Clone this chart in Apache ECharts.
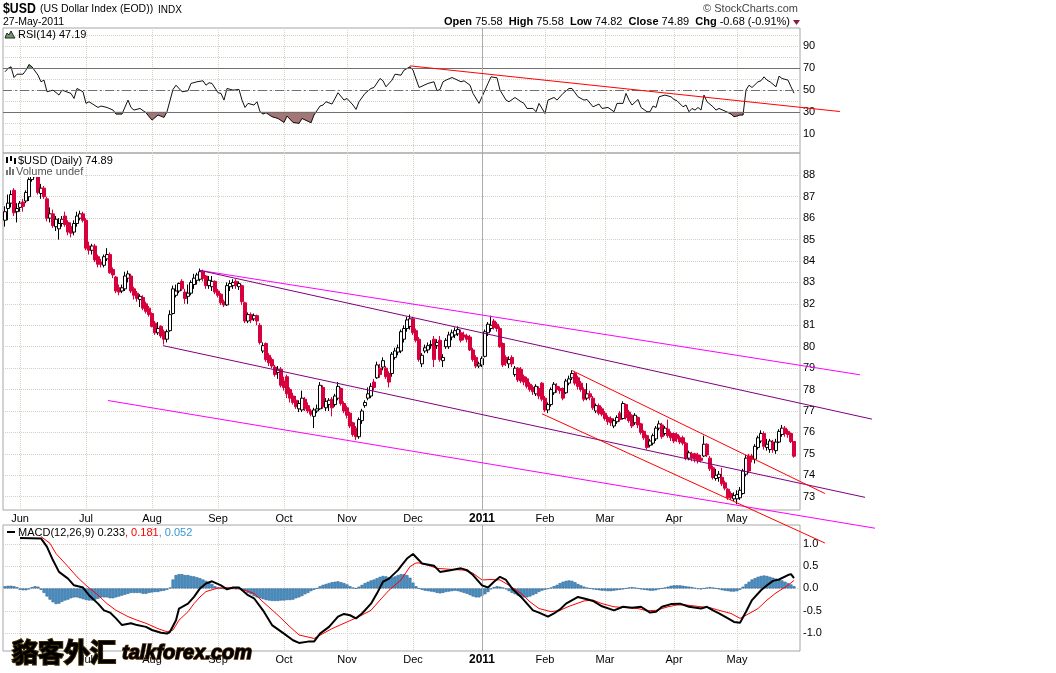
<!DOCTYPE html>
<html>
<head>
<meta charset="utf-8">
<title>$USD (US Dollar Index (EOD)) INDX</title>
<script src="https://cdn.jsdelivr.net/npm/echarts@6/dist/echarts.min.js"></script>
<style>
  html, body { margin: 0; padding: 0; background: #fff; }
  #main { width: 1056px; height: 673px; }
</style>
</head>
<body>
<div id="main"></div>
<script>
// $USD daily, one entry per weekday: index 0 = 24-May-2010 ... 263 = 27-May-2011
var opens = [
  85.9,86.45,86.7,87.3,86.3,86.5,86.75,86.8,87.0,87.8,
  88.3,88.0,87.15,87.4,86.9,86.0,86.2,85.6,85.5,85.75,
  86.1,85.8,85.6,85.35,85.75,86.0,86.2,85.9,84.7,84.5,
  84.7,84.2,83.95,83.8,84.1,84.3,83.6,83.25,82.75,82.6,
  82.7,83.2,83.3,82.7,82.5,82.2,82.3,82.0,81.8,81.55,
  81.1,80.65,80.95,80.7,80.35,80.75,81.55,82.4,82.6,83.05,
  82.55,82.35,82.5,82.9,83.1,83.15,83.5,83.3,82.85,82.8,
  83.05,82.6,82.45,82.1,81.95,82.8,82.85,83.05,82.8,82.85,
  82.05,81.2,81.5,81.3,81.45,81.0,79.8,80.15,79.6,79.4,
  79.05,78.8,78.95,78.4,78.6,78.0,77.7,77.5,77.1,77.05,
  77.55,77.25,77.0,76.75,77.0,77.1,78.1,77.15,77.3,77.55,
  77.3,77.6,78.05,77.35,77.15,76.9,76.45,76.2,75.8,76.55,
  77.25,77.6,77.7,78.35,78.55,79.0,79.05,79.0,78.75,78.75,
  79.5,79.75,79.8,80.35,80.85,80.95,81.3,80.75,80.35,79.2,
  79.8,79.85,80.05,80.35,80.05,80.3,79.35,80.0,80.0,80.45,
  80.55,80.6,80.65,80.55,80.5,80.45,79.85,79.5,79.1,79.15,
  79.55,80.65,80.85,81.2,81.05,80.85,80.15,79.5,79.2,79.5,
  78.7,79.0,78.95,78.6,78.5,78.25,78.1,77.8,78.05,78.3,
  77.6,77.05,77.3,77.85,78.15,78.05,78.05,77.85,78.3,78.55,
  78.75,78.55,78.3,78.0,77.6,77.8,77.6,77.0,77.25,77.1,
  76.9,76.7,76.65,76.3,76.5,76.9,76.65,77.3,76.95,76.8,
  76.45,76.7,76.4,76.05,75.85,75.4,75.5,75.7,76.2,76.35,
  75.95,76.15,75.95,75.95,75.9,75.75,75.75,75.5,74.8,75.0,
  75.0,74.95,74.8,74.9,75.45,74.8,74.35,73.85,73.9,73.9,
  73.65,73.35,73.15,72.9,72.9,72.95,73.15,74.05,74.9,74.9,
  74.75,75.3,75.6,75.95,75.3,75.2,75.55,75.15,75.55,75.9,
  76.2,76.05,75.95,75.58
];
var closes = [
  86.3,86.7,87.1,86.25,86.45,86.7,86.55,87.2,87.8,88.3,
  88.0,87.2,87.4,87.0,86.0,86.2,85.65,85.95,85.75,85.95,
  85.7,85.35,85.3,85.75,86.1,86.2,85.9,84.6,84.5,84.7,
  84.05,83.85,83.85,84.2,84.3,83.45,83.35,82.6,82.55,82.75,
  83.3,83.4,82.6,82.4,82.25,82.35,81.8,81.65,81.5,80.95,
  80.65,80.85,80.5,80.35,80.7,81.5,82.7,82.6,82.95,82.7,
  82.25,82.5,83.0,83.2,83.35,83.5,83.2,82.85,83.1,83.05,
  82.55,82.4,82.05,81.95,82.85,82.95,83.0,82.85,82.95,82.1,
  81.2,81.5,81.25,81.45,81.2,80.2,80.05,79.4,79.25,79.1,
  78.7,78.95,78.2,78.1,77.8,77.6,77.4,77.2,77.35,77.6,
  77.1,77.0,76.85,77.05,77.1,78.2,77.2,77.45,77.5,77.15,
  77.7,78.15,77.35,77.0,76.8,76.3,75.9,75.8,76.6,77.0,
  77.4,77.8,78.15,78.1,79.15,78.7,79.35,78.6,78.35,79.65,
  79.8,79.95,80.7,80.85,81.25,81.3,80.65,80.3,79.4,79.6,
  79.95,80.05,80.1,79.4,80.2,79.4,79.5,80.3,80.55,80.65,
  80.75,80.8,80.3,80.45,80.35,79.85,79.4,79.1,79.2,79.45,
  80.7,81.05,81.0,80.9,80.85,80.0,79.15,79.25,79.4,79.2,
  79.0,78.45,78.4,78.35,78.15,78.0,77.9,78.15,77.7,77.55,
  77.05,77.3,78.0,78.25,78.0,77.95,77.6,78.4,78.5,78.75,
  78.3,78.15,78.0,77.55,77.8,77.65,77.15,77.25,76.9,76.85,
  76.65,76.5,76.45,76.55,76.7,76.6,77.35,76.7,76.55,76.3,
  76.8,76.35,76.0,75.75,75.3,75.6,75.85,76.2,76.4,75.8,
  76.2,75.85,75.75,75.6,75.7,75.55,75.5,74.8,75.05,74.8,
  74.75,74.7,74.7,75.45,74.95,74.3,73.9,74.0,74.05,73.6,
  73.4,72.95,72.95,73.05,73.1,73.3,74.2,74.8,74.2,74.75,
  75.35,75.75,75.95,75.35,75.45,75.6,75.2,75.55,76.05,76.2,
  75.95,75.9,75.57,74.89
];
var lows = [
  85.6,85.9,86.5,86.1,85.8,86.3,86.3,86.7,86.8,87.7,
  87.9,87.1,86.9,86.9,85.85,85.8,85.55,85.4,85.0,85.6,
  85.6,85.2,85.1,85.2,85.6,85.9,85.8,84.5,84.3,84.3,
  83.95,83.7,83.7,83.7,84.0,83.4,83.2,82.5,82.4,82.5,
  82.6,83.0,82.5,82.2,82.1,81.85,81.7,81.55,81.4,80.9,
  80.55,80.55,80.4,80.1,80.2,80.7,81.5,82.3,82.5,82.6,
  82.0,82.0,82.4,82.7,82.9,83.05,83.05,82.7,82.7,82.6,
  82.45,82.3,81.95,81.85,81.9,82.6,82.7,82.7,82.65,81.95,
  81.1,81.1,81.1,81.2,81.0,80.1,79.7,79.3,79.1,79.0,
  78.6,78.5,78.1,77.95,77.6,77.4,77.3,77.1,76.95,76.95,
  77.0,76.9,76.75,76.2,76.9,77.05,77.1,77.0,77.0,76.75,
  77.2,77.5,77.25,76.9,76.65,76.2,75.8,75.65,75.7,76.4,
  77.15,77.5,77.6,77.95,78.5,78.55,78.9,78.5,78.1,78.6,
  79.4,79.6,79.7,80.2,80.7,80.8,80.55,80.2,79.3,79.05,
  79.7,79.7,79.9,79.05,79.9,79.3,79.05,79.9,79.9,80.3,
  80.4,80.5,80.2,80.3,80.2,79.8,79.3,79.0,79.0,79.05,
  79.5,80.5,80.7,80.8,80.7,79.95,79.05,79.1,79.0,79.05,
  78.6,78.35,78.3,78.2,78.05,77.9,77.75,77.7,77.55,77.45,
  76.95,76.9,77.2,77.75,77.85,77.8,77.5,77.8,78.2,78.45,
  78.2,78.0,77.9,77.45,77.5,77.5,77.05,76.9,76.8,76.75,
  76.55,76.35,76.3,76.2,76.4,76.5,76.6,76.6,76.45,76.2,
  76.35,76.2,75.9,75.65,75.2,75.3,75.4,75.6,76.1,75.7,
  75.85,75.75,75.6,75.5,75.55,75.45,75.4,74.7,74.7,74.65,
  74.6,74.55,74.6,74.85,74.85,74.2,73.8,73.75,73.7,73.5,
  73.3,72.85,72.85,72.8,72.65,72.85,73.1,73.95,74.1,74.6,
  74.55,75.2,75.5,75.2,75.15,75.05,75.05,75.0,75.5,75.8,
  75.8,75.75,75.5,74.82
];
var highs = [
  86.55,87.1,87.3,87.4,86.7,86.8,86.9,87.3,87.9,88.7,
  88.5,88.1,87.6,87.5,87.0,86.5,86.4,86.1,86.0,86.1,
  86.3,85.9,85.8,85.9,86.3,86.35,86.3,86.0,84.9,84.8,
  84.8,84.3,84.1,84.3,84.6,84.4,83.7,83.3,82.9,82.9,
  83.5,83.55,83.4,82.8,82.6,82.45,82.4,82.1,81.9,81.6,
  81.2,81.15,81.0,80.8,80.8,81.7,82.85,82.9,83.0,83.15,
  82.7,82.9,83.1,83.4,83.45,83.65,83.6,83.35,83.3,83.3,
  83.1,82.7,82.5,82.2,83.0,83.1,83.15,83.15,83.05,82.9,
  82.1,81.6,81.6,81.55,81.5,81.1,80.2,80.2,79.7,79.5,
  79.15,79.1,79.05,78.6,78.7,78.1,77.85,77.7,77.5,77.95,
  77.65,77.4,77.1,77.15,77.3,78.35,78.2,77.6,77.6,77.65,
  77.8,78.35,78.1,77.45,77.25,76.95,76.5,76.3,76.7,77.1,
  77.5,78.1,78.3,78.5,79.3,79.2,79.5,79.1,78.85,79.75,
  79.95,80.1,80.8,81.0,81.4,81.5,81.4,80.85,80.45,79.7,
  80.1,80.2,80.3,80.5,80.35,80.5,79.65,80.4,80.7,80.8,
  80.9,80.95,80.8,80.7,80.6,80.55,79.95,79.6,79.3,79.55,
  80.8,81.15,81.45,81.3,81.15,80.95,80.2,79.6,79.55,79.6,
  79.1,79.05,79.05,78.7,78.6,78.35,78.2,78.25,78.15,78.35,
  77.7,77.4,78.1,78.35,78.3,78.15,78.1,78.5,78.65,78.9,
  78.85,78.65,78.4,78.1,78.3,77.95,77.7,77.35,77.35,77.2,
  77.0,76.8,76.75,76.65,76.8,77.0,77.45,77.35,77.05,76.85,
  76.9,76.75,76.45,76.1,75.9,75.7,75.95,76.3,76.55,76.45,
  76.3,76.6,76.05,76.0,76.0,75.85,75.85,75.55,75.15,75.1,
  75.05,75.05,74.95,75.85,75.5,74.9,74.45,74.3,74.2,74.35,
  73.75,73.4,73.25,73.2,73.3,73.45,74.3,74.95,75.0,75.0,
  75.45,75.85,76.1,76.05,75.7,75.7,75.65,75.7,76.15,76.35,
  76.3,76.15,76.0,75.58
];

// first trading day of each month (day index) and its label
var monthTicks = [5, 27, 49, 71, 93, 114, 136, 159, 180, 200, 223, 244];
var monthLabels = ['Jun', 'Jul', 'Aug', 'Sep', 'Oct', 'Nov', 'Dec', '2011', 'Feb', 'Mar', 'Apr', 'May'];
var priceTicks = [73, 74, 75, 76, 77, 78, 79, 80, 81, 82, 83, 84, 85, 86, 87, 88];
var rsiTicks = [10, 30, 50, 70, 90];
var rsiGridLines = [0, 10, 20, 30, 40, 50, 60, 70, 80, 90, 100];
var macdTicks = [-1, -0.5, 0, 0.5, 1];

// RSI(14) as [day index, value]
var rsi = [
  [0,66.7],[1,69.7],[2,71.2],[3,61.5],[4,64.5],[6,64.5],[7,68.2],[8,73.3],[9,71.2],[11,63.6],
  [12,57.6],[13,59.1],[14,48.5],[16,50],[18,45.5],[19,50],[22,47],[23,42.4],[24,51.5],[26,48.5],
  [27,37.9],[28,39.4],[31,34.2],[32,35.5],[34,34.2],[36,31.8],[37,28.2],[39,28.2],[41,40.9],[42,34.2],
  [43,31.8],[45,33.3],[47,29.4],[49,22.7],[51,27.3],[53,25.2],[54,30.3],[56,50.6],[57,54.5],[59,48.5],
  [61,49.4],[62,56.1],[64,57.6],[66,58.5],[67,54.5],[68,56.7],[69,56.1],[71,47.6],[72,47],[73,40.9],
  [74,51.5],[76,50],[78,50.6],[79,40.9],[80,34.2],[81,37.9],[83,36.4],[84,39.4],[85,30.3],[86,28.2],
  [87,29.4],[89,25.8],[91,24.2],[93,20.6],[94,26.4],[96,20.6],[98,19.7],[99,24.2],[102,20.3],[103,27.3],
  [105,35.5],[106,36.4],[107,39.4],[109,37.3],[110,42.4],[111,47.6],[113,40.9],[114,42.4],[116,36.4],[117,32.4],
  [118,39.4],[120,47],[122,51.5],[123,52.4],[125,60.6],[126,58.5],[127,53],[129,59.1],[130,64.5],[132,63.6],
  [133,68.2],[135,71.2],[136,68.2],[138,52.4],[139,53.6],[141,56.1],[143,57.6],[144,49.4],[145,50.6],[146,57.6],
  [147,59.1],[149,61.5],[152,57.6],[153,58.5],[155,54.5],[156,47],[158,37.9],[159,43.9],[161,56.1],[162,62.1],
  [164,61.2],[165,50],[167,40.9],[168,39.4],[170,43.3],[172,39.4],[173,37.9],[174,33.3],[176,33.3],[177,30.3],
  [178,37.9],[180,28.8],[181,40.9],[183,43.3],[184,40.9],[186,47],[188,51.5],[189,51.5],[191,43.9],[193,40.9],
  [194,41.5],[196,34.8],[198,37.3],[199,33.3],[201,34.2],[203,30.3],[204,37.9],[206,37.9],[207,47],[208,40.9],
  [209,36.4],[211,41.5],[212,34.2],[214,30.3],[215,30.3],[216,35.5],[217,34.2],[218,43.9],[220,45.5],[222,43.9],
  [223,41.5],[224,40.3],[226,34.8],[227,36.4],[228,30.3],[229,33.3],[230,31.8],[231,34.2],[232,31.8],[233,45.5],
  [234,39.4],[236,34.8],[237,31.8],[238,33.3],[240,30.9],[242,28.2],[243,25.8],[244,26.4],[245,27.3],[246,27.3],
  [247,50],[248,54.5],[249,52.4],[251,57.6],[252,58.5],[253,62.1],[254,59.1],[255,57.6],[257,53],[258,62.7],
  [259,60.6],[261,59.1],[262,53],[263,47.19]
];

// MACD(12,26,9): MACD line and signal as [day index, value], histogram one value per day
var macdLine = [
  [5,1.13],[12,1.12],[14,0.93],[16,0.63],[18,0.37],[21,0.22],[23,0.07],[26,0.02],[28,-0.15],[31,-0.34],
  [33,-0.49],[35,-0.54],[37,-0.67],[39,-0.82],[42,-0.78],[44,-0.82],[47,-0.86],[49,-0.93],[52,-0.99],[54,-1.01],
  [55,-0.97],[57,-0.71],[58,-0.45],[61,-0.34],[63,-0.19],[65,0],[67,0.11],[69,0.16],[72,0.07],[74,-0.02],
  [76,0.02],[78,0.02],[81,-0.15],[83,-0.22],[86,-0.49],[89,-0.82],[93,-1.01],[96,-1.16],[98,-1.22],[101,-1.19],
  [103,-1.19],[105,-1.01],[108,-0.86],[111,-0.63],[113,-0.57],[115,-0.6],[117,-0.67],[119,-0.56],[122,-0.34],[124,-0.11],
  [126,0.15],[128,0.22],[131,0.41],[132,0.5],[134,0.67],[136,0.77],[138,0.63],[139,0.56],[143,0.51],[145,0.37],
  [148,0.4],[152,0.45],[154,0.41],[156,0.3],[159,0.07],[161,0.02],[163,0.15],[165,0.26],[167,0.19],[169,0],
  [172,-0.19],[174,-0.34],[176,-0.49],[178,-0.54],[181,-0.63],[183,-0.56],[185,-0.47],[187,-0.34],[191,-0.19],[194,-0.24],
  [196,-0.28],[199,-0.4],[203,-0.49],[206,-0.41],[209,-0.43],[212,-0.41],[215,-0.54],[217,-0.52],[219,-0.41],[222,-0.35],
  [225,-0.34],[228,-0.41],[232,-0.45],[234,-0.41],[236,-0.49],[238,-0.56],[241,-0.67],[243,-0.75],[245,-0.77],[247,-0.52],
  [249,-0.26],[252,-0.04],[254,0.07],[256,0.17],[258,0.2],[261,0.3],[262,0.32],[263,0.233]
];
var signalLine = [
  [12,1.16],[15,1.01],[17,0.78],[21,0.49],[24,0.26],[27,0.07],[31,-0.15],[34,-0.34],[37,-0.49],[41,-0.63],
  [44,-0.71],[47,-0.78],[51,-0.9],[54,-0.97],[56,-0.93],[58,-0.71],[61,-0.52],[63,-0.34],[65,-0.19],[67,-0.07],
  [71,0.01],[75,0.02],[78,0],[83,-0.11],[86,-0.3],[91,-0.6],[95,-0.86],[98,-1.04],[103,-1.12],[106,-1.01],
  [109,-0.9],[114,-0.75],[118,-0.63],[122,-0.49],[125,-0.26],[128,-0.04],[132,0.19],[135,0.49],[137,0.57],[138,0.57],
  [141,0.52],[144,0.45],[148,0.43],[153,0.41],[156,0.34],[159,0.19],[162,0.2],[165,0.19],[168,0.07],[172,-0.11],
  [175,-0.3],[178,-0.45],[182,-0.52],[185,-0.49],[188,-0.4],[193,-0.28],[196,-0.26],[199,-0.34],[203,-0.41],[207,-0.43],
  [211,-0.45],[214,-0.5],[217,-0.49],[221,-0.41],[224,-0.37],[227,-0.37],[232,-0.41],[235,-0.43],[238,-0.49],[242,-0.56],
  [245,-0.67],[247,-0.6],[251,-0.45],[254,-0.26],[257,-0.1],[261,0.07],[263,0.181]
];
var macdHist = [
  0.05,0.06,0.06,0.05,0.03,-0.03,-0.04,-0.04,-0.02,0.03,0.05,0.04,
  -0.03,-0.1,-0.18,-0.25,-0.31,-0.35,-0.34,-0.3,-0.27,-0.25,-0.22,-0.2,-0.2,-0.22,-0.24,
  -0.26,-0.27,-0.27,-0.25,-0.23,-0.2,-0.2,-0.2,-0.22,-0.22,-0.2,-0.18,-0.16,
  -0.14,-0.12,-0.1,-0.1,-0.1,-0.1,-0.12,-0.12,-0.1,-0.09,-0.08,-0.08,-0.06,-0.05,-0.03,0.02,
  0.2,0.3,0.32,0.32,0.3,0.3,0.28,0.27,0.25,0.23,0.2,0.17,0.14,0.1,0.05,0.02,
  0.0,-0.01,0.01,0.0,-0.01,-0.02,-0.02,-0.04,-0.06,-0.1,-0.13,-0.17,-0.2,-0.22,
  -0.24,-0.26,-0.27,-0.28,-0.28,-0.28,-0.27,-0.27,-0.26,-0.26,-0.25,-0.22,-0.2,-0.17,-0.13,-0.1,-0.06,-0.03,
  0.0,0.05,0.08,0.1,0.12,0.14,0.15,0.16,0.14,0.12,0.09,0.05,0.02,0.0,0.04,0.08,0.12,0.15,
  0.18,0.2,0.23,0.26,0.28,0.27,0.25,0.25,0.27,0.3,0.32,0.32,0.3,0.24,0.13,0.05,0.0,
  -0.03,-0.05,-0.06,-0.07,-0.08,-0.1,-0.11,-0.1,-0.08,-0.07,-0.06,-0.05,-0.06,-0.08,-0.1,
  -0.12,-0.15,-0.18,-0.2,-0.2,-0.17,-0.13,-0.08,-0.02,0.03,0.05,0.04,0.02,-0.02,-0.06,-0.1,
  -0.13,-0.16,-0.18,-0.2,-0.2,-0.18,-0.15,-0.12,-0.08,-0.05,-0.03,-0.01,0.02,0.05,0.08,0.12,
  0.15,0.17,0.18,0.17,0.14,0.1,0.07,0.04,0.02,0.0,-0.02,-0.03,-0.04,
  -0.05,-0.05,-0.06,-0.06,-0.05,-0.04,-0.03,-0.02,0.0,0.02,0.03,0.02,0.0,-0.02,-0.03,-0.04,-0.05,
  -0.05,-0.04,-0.02,0.0,0.02,0.04,0.06,0.07,0.07,0.07,0.06,0.05,0.04,0.03,0.01,-0.01,-0.02,0.0,
  0.02,0.03,0.02,0.0,-0.02,-0.04,-0.05,-0.06,-0.07,-0.07,-0.06,-0.03,0.04,0.1,0.15,0.2,0.23,0.26,
  0.28,0.29,0.28,0.26,0.24,0.22,0.2,0.18,0.15,0.12,0.09,0.052
];

// annotation lines drawn on the chart, [day index, value] end points
var chanUpperMagenta = [[65, 83.56], [285, 78.69]];
var chanUpperPurple = [[65, 83.56], [289, 76.62]];
var chanLowerPurple = [[52.7, 80.05], [286.7, 72.97]];
var chanLowerMagenta = [[34.3, 77.49], [290, 71.53]];
var wedgeTop = [[189, 78.89], [273.3, 73.15]];
var wedgeBottom = [[179, 76.87], [273.3, 70.84]];
var rsiTrend = [[135, 72.1], [278.3, 30.5]];

var FONT = '"Liberation Sans", Arial, Helvetica, sans-serif';
var GRID_COLOR = '#d7cfc3';
var RED = '#d8003c';
var DAY_MIN = -2 / 3;     // left edge of the plot, in day units
var DAY_MAX = 265;        // right edge of the plot (x = 800)
var DAY_MAX_WIDE = 291.67; // right edge of the overlay used by annotation lines (x = 880)

var candleData = opens.map(function (o, i) {
  return [i, o, closes[i], lows[i], highs[i]];
});
var histData = macdHist.map(function (v, i) { return [i, v]; });

// area between the RSI line and a level (below 30 / above 70), one piece per segment
function rsiZone(level, below, color) {
  return {
    type: 'custom',
    xAxisIndex: 0,
    yAxisIndex: 0,
    data: rsi,
    encode: { x: 0, y: 1 },
    silent: true,
    z: 3,
    renderItem: function (params, api) {
      var k = params.dataIndex;
      if (k >= rsi.length - 1) return null;
      var p1 = rsi[k], p2 = rsi[k + 1];
      var in1 = below ? p1[1] < level : p1[1] > level;
      var in2 = below ? p2[1] < level : p2[1] > level;
      if (!in1 && !in2) return null;
      var pts;
      if (in1 && in2) {
        pts = [[p1[0], level], p1, p2, [p2[0], level]];
      } else {
        var t = (level - p1[1]) / (p2[1] - p1[1]);
        var xc = p1[0] + t * (p2[0] - p1[0]);
        pts = in1 ? [[p1[0], level], p1, [xc, level]] : [[xc, level], p2, [p2[0], level]];
      }
      return {
        type: 'polygon',
        shape: { points: pts.map(function (p) { return api.coord(p); }) },
        style: { fill: color, stroke: color, lineWidth: 0.5 }
      };
    }
  };
}

function monthName(v) {
  var k = monthTicks.indexOf(v);
  if (k < 0) return '';
  return monthLabels[k] === '2011' ? '{y|2011}' : monthLabels[k];
}

function dayAxis(gridIndex, showLabels) {
  return {
    type: 'value',
    gridIndex: gridIndex,
    min: DAY_MIN,
    max: DAY_MAX,
    axisLine: { show: false },
    axisTick: { show: false, customValues: monthTicks },
    splitLine: { show: true, lineStyle: { color: GRID_COLOR, type: 'dotted', width: 1 } },
    axisLabel: {
      show: showLabels,
      customValues: monthTicks,
      formatter: monthName,
      margin: 3,
      color: '#000',
      fontSize: 11,
      fontFamily: FONT,
      rich: { y: { fontWeight: 'bold', fontSize: 12, fontFamily: FONT, color: '#000' } }
    }
  };
}

function valueAxis(gridIndex, min, max, labels, lines, fmt) {
  return {
    type: 'value',
    gridIndex: gridIndex,
    position: 'right',
    min: min,
    max: max,
    axisLine: { show: false },
    axisTick: { show: false, customValues: lines },
    splitLine: { show: true, lineStyle: { color: GRID_COLOR, type: 'dotted', width: 1 } },
    axisLabel: {
      customValues: labels,
      formatter: fmt,
      margin: 3,
      color: '#000',
      fontSize: 11,
      fontFamily: FONT
    }
  };
}

function trend(data, color, xi, yi) {
  return {
    type: 'line',
    xAxisIndex: xi,
    yAxisIndex: yi,
    data: data,
    clip: false,
    silent: true,
    symbol: 'none',
    lineStyle: { color: color, width: 1 },
    z: 5
  };
}

var janLine = {
  symbol: 'none',
  silent: true,
  label: { show: false },
  lineStyle: { color: '#ababab', type: 'solid', width: 1 },
  data: [{ xAxis: 159 }]
};

var gridBox = { show: true, borderColor: '#a6a6a6', borderWidth: 1, left: 3, right: 256 };
// invisible overlays with the same scale, wider so the drawn lines can run past the plot edge
var overlayBox = { show: false, left: 3, right: 176 };

var myChart = echarts.init(document.getElementById('main'));

var option = {
  animation: false,
  backgroundColor: '#fff',
  textStyle: { fontFamily: FONT },
  grid: [
    Object.assign({ top: 28, height: 125 }, gridBox),
    Object.assign({ top: 153, height: 357 }, gridBox),
    Object.assign({ top: 525, height: 126 }, gridBox),
    Object.assign({ top: 153, height: 357 }, overlayBox),
    Object.assign({ top: 28, height: 125 }, overlayBox)
  ],
  xAxis: [
    dayAxis(0, false), dayAxis(1, true), dayAxis(2, true),
    { type: 'value', gridIndex: 3, min: DAY_MIN, max: DAY_MAX_WIDE, show: false },
    { type: 'value', gridIndex: 4, min: DAY_MIN, max: DAY_MAX_WIDE, show: false }
  ],
  yAxis: [
    valueAxis(0, -7.3, 106.6, rsiTicks, rsiGridLines),
    valueAxis(1, 72.38, 89.04, priceTicks, priceTicks),
    valueAxis(2, -1.4, 1.42, macdTicks, macdTicks, function (v) { return v.toFixed(1); }),
    { type: 'value', gridIndex: 3, min: 72.38, max: 89.04, show: false },
    { type: 'value', gridIndex: 4, min: -7.3, max: 106.6, show: false }
  ],
  series: [
    // RSI panel
    rsiZone(30, true, '#a57676'),
    rsiZone(70, false, '#6f9c6f'),
    {
      type: 'line', xAxisIndex: 0, yAxisIndex: 0, data: rsi, symbol: 'none', silent: true,
      lineStyle: { color: '#111', width: 1 }, z: 4,
      markLine: {
        symbol: 'none', silent: true, label: { show: false },
        data: [
          { yAxis: 70, lineStyle: { color: '#707070', type: 'solid', width: 1 } },
          { yAxis: 30, lineStyle: { color: '#707070', type: 'solid', width: 1 } },
          { yAxis: 50, lineStyle: { color: '#707070', type: [9, 3, 2, 3], width: 1 } },
          { xAxis: 159, lineStyle: { color: '#ababab', type: 'solid', width: 1 } }
        ]
      }
    },
    trend(rsiTrend, '#ff0000', 4, 4),

    // price panel
    {
      type: 'candlestick', xAxisIndex: 1, yAxisIndex: 1, data: candleData,
      encode: { x: 0, y: [1, 2, 3, 4] },
      barWidth: 3, silent: true,
      itemStyle: { color: '#fff', color0: RED, borderColor: '#000', borderColor0: RED, borderWidth: 1 },
      markLine: janLine
    },
    trend(chanUpperMagenta, '#ff00ff', 3, 3),
    trend(chanUpperPurple, '#800080', 3, 3),
    trend(chanLowerPurple, '#800080', 3, 3),
    trend(chanLowerMagenta, '#ff00ff', 3, 3),
    trend(wedgeTop, '#ff0000', 3, 3),
    trend(wedgeBottom, '#ff0000', 3, 3),

    // MACD panel
    {
      type: 'bar', xAxisIndex: 2, yAxisIndex: 2, data: histData, barWidth: 3, silent: true,
      itemStyle: { color: '#4d92c8', borderColor: '#2f6796', borderWidth: 0.6 },
      markLine: janLine
    },
    { type: 'line', xAxisIndex: 2, yAxisIndex: 2, data: signalLine, symbol: 'none', silent: true,
      lineStyle: { color: '#ff0000', width: 1 }, z: 4 },
    { type: 'line', xAxisIndex: 2, yAxisIndex: 2, data: macdLine, symbol: 'none', silent: true,
      lineStyle: { color: '#000', width: 2 }, z: 5 }
  ],
  graphic: [
    // header
    { type: 'text', x: 3, y: 1, scaleX: 0.82, z: 20,
      style: { text: '$USD', font: 'bold 15px ' + FONT, fill: '#000', verticalAlign: 'top', textVerticalAlign: 'top' } },
    { type: 'text', x: 40, y: 4, z: 20,
      style: { text: '(US Dollar Index (EOD))', font: '10.5px ' + FONT, fill: '#000', verticalAlign: 'top', textVerticalAlign: 'top' } },
    { type: 'text', x: 158, y: 5, z: 20,
      style: { text: 'INDX', font: '10px ' + FONT, fill: '#000', verticalAlign: 'top', textVerticalAlign: 'top' } },
    { type: 'text', x: 3, y: 17, z: 20,
      style: { text: '27-May-2011', font: '10.5px ' + FONT, fill: '#000', verticalAlign: 'top', textVerticalAlign: 'top' } },
    { type: 'text', x: 798, y: 3, z: 20,
      style: { text: '\u00a9 StockCharts.com', font: '11px ' + FONT, fill: '#444', align: 'right', textAlign: 'right',
               verticalAlign: 'top', textVerticalAlign: 'top' } },
    { type: 'text', x: 790, y: 16, z: 20,
      style: {
        text: '{b|Open} 75.58  {b|High} 75.58  {b|Low} 74.82  {b|Close} 74.89  {b|Chg} -0.68 (-0.91%)',
        font: '11px ' + FONT, fill: '#000', align: 'right', textAlign: 'right',
        verticalAlign: 'top', textVerticalAlign: 'top',
        rich: { b: { fontWeight: 'bold', fontSize: 11, fontFamily: FONT, fill: '#000' } }
      } },
    { type: 'polygon', z: 20, shape: { points: [[793, 20], [800, 20], [796.5, 25]] }, style: { fill: '#8c1a3c' } },

    // RSI legend
    { type: 'polygon', z: 20, shape: { points: [[5, 38], [7, 33], [9, 35], [11, 31], [13, 35], [15, 38]] },
      style: { fill: '#6f9c6f', stroke: '#222', lineWidth: 1 } },
    { type: 'text', x: 18, y: 29, z: 20,
      style: { text: 'RSI(14) 47.19', font: '11px ' + FONT, fill: '#000', verticalAlign: 'top', textVerticalAlign: 'top' } },

    // price legend, white box behind it like the original
    { type: 'rect', z: 15, shape: { x: 4, y: 154, width: 122, height: 12 }, style: { fill: '#fff' } },
    { type: 'rect', z: 15, shape: { x: 4, y: 166, width: 78, height: 11 }, style: { fill: '#fff' } },
    { type: 'rect', z: 20, shape: { x: 6, y: 157, width: 2, height: 6 }, style: { fill: '#000' } },
    { type: 'rect', z: 20, shape: { x: 10, y: 156, width: 2, height: 5 }, style: { fill: '#000' } },
    { type: 'rect', z: 20, shape: { x: 14, y: 158, width: 2, height: 6 }, style: { fill: '#000' } },
    { type: 'text', x: 18, y: 155, z: 20,
      style: { text: '$USD (Daily) 74.89', font: '11px ' + FONT, fill: '#000', verticalAlign: 'top', textVerticalAlign: 'top' } },
    { type: 'rect', z: 20, shape: { x: 6, y: 170, width: 2, height: 5 }, style: { fill: '#777' } },
    { type: 'rect', z: 20, shape: { x: 9, y: 167, width: 2, height: 8 }, style: { fill: '#777' } },
    { type: 'rect', z: 20, shape: { x: 12, y: 169, width: 2, height: 6 }, style: { fill: '#777' } },
    { type: 'text', x: 16, y: 166, z: 20,
      style: { text: 'Volume undef', font: '11px ' + FONT, fill: '#555', verticalAlign: 'top', textVerticalAlign: 'top' } },

    // MACD legend
    { type: 'line', z: 20, shape: { x1: 7, y1: 532, x2: 15, y2: 532 }, style: { stroke: '#000', lineWidth: 2 } },
    { type: 'text', x: 18, y: 527, z: 20,
      style: {
        text: 'MACD(12,26,9) 0.233{r|, 0.181}{c|, 0.052}',
        font: '11px ' + FONT, fill: '#000', verticalAlign: 'top', textVerticalAlign: 'top',
        rich: {
          r: { fontSize: 11, fontFamily: FONT, fill: '#ff0000' },
          c: { fontSize: 11, fontFamily: FONT, fill: '#3a95d0' }
        }
      } },

    // watermark
    { type: 'text', x: 12, y: 639, z: 30,
      style: {
        text: '貉客外汇', font: 'bold 26px "Noto Sans CJK SC"',
        fill: new echarts.graphic.LinearGradient(0, 0, 0, 1, [
          { offset: 0, color: '#fff36a' }, { offset: 1, color: '#f2b400' }
        ]),
        stroke: '#3d2a00', lineWidth: 2, strokeFirst: true,
        verticalAlign: 'top', textVerticalAlign: 'top'
      } },
    { type: 'text', x: 122, y: 643, z: 30,
      style: {
        text: 'talkforex.com', font: 'italic bold 20px ' + FONT,
        fill: new echarts.graphic.LinearGradient(0, 0, 0, 1, [
          { offset: 0, color: '#ffe21a' }, { offset: 1, color: '#f06a00' }
        ]),
        stroke: '#4a2600', lineWidth: 1.5, strokeFirst: true,
        verticalAlign: 'top', textVerticalAlign: 'top'
      } }
  ]
};

myChart.setOption(option);
</script>
</body>
</html>
